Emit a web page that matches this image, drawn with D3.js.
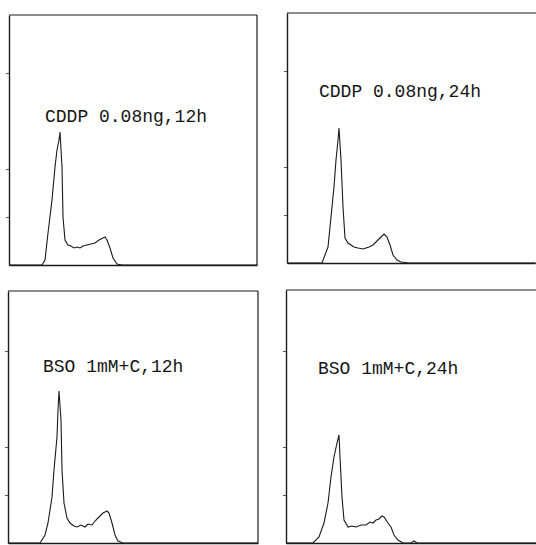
<!DOCTYPE html>
<html>
<head>
<meta charset="utf-8">
<script src="https://cdn.jsdelivr.net/npm/d3@7"></script>
<style>
  body { margin: 0; background: #fff; }
  svg { display: block; }
  .label { font-family: "Liberation Mono", "DejaVu Sans Mono", monospace; font-size: 18px; fill: #151515; }
</style>
</head>
<body>
<svg></svg>
<script>
const width = 536;
const height = 545;

// panel titles
const titles = [
	'CDDP 0.08ng,12h',
	'CDDP 0.08ng,24h',
	'BSO 1mM+C,12h',
	'BSO 1mM+C,24h'
];

// DNA content channel / cell count
const cddp12Channel = [0, 33, 36, 39, 43, 46, 48, 50, 51, 53, 54, 56, 59, 62, 65, 68, 71, 74, 78, 82, 86, 90, 94, 96, 98, 101, 104, 108, 113, 248];
const cddp12Count   = [0, 0, 5, 32, 65, 98, 115, 125, 133, 98, 48, 25, 20, 19, 17, 18, 17, 19, 20, 21, 22, 25, 27, 28, 25, 17, 7, 1, 0, 0];

const cddp24Channel = [0, 35, 41, 44, 47, 49, 51, 52, 54, 56, 58, 61, 64, 67, 71, 76, 79, 82, 86, 89, 92, 94, 97, 100, 103, 106, 110, 114, 122, 250];
const cddp24Count   = [0, 0, 16, 46, 76, 103, 123, 135, 103, 56, 25, 20, 18, 16, 15, 14, 15, 16, 18, 21, 24, 26, 29, 26, 18, 8, 3, 1, 0, 0];

const bso12Channel = [0, 32, 37, 40, 44, 46, 49, 50, 51, 53, 54, 56, 59, 62, 66, 69, 73, 77, 80, 84, 87, 90, 95, 99, 101, 104, 107, 110, 115, 250];
const bso12Count   = [0, 0, 8, 20, 46, 73, 106, 133, 152, 123, 73, 40, 25, 20, 17, 16, 18, 16, 19, 18, 22, 25, 30, 32, 30, 20, 8, 2, 0, 0];

const bso24Channel = [0, 27, 33, 38, 42, 45, 48, 51, 53, 54, 56, 58, 62, 66, 70, 75, 80, 84, 87, 90, 93, 96, 98, 102, 105, 108, 112, 117, 125, 128, 131, 250];
const bso24Count   = [0, 0, 6, 20, 40, 66, 86, 100, 108, 86, 46, 23, 16, 17, 16, 18, 18, 21, 20, 23, 24, 27, 26, 20, 16, 8, 3, 0, 0, 2, 0, 0];

const yTicks = [48, 96, 192];

const series = [
	{ channel: cddp12Channel, count: cddp12Count },
	{ channel: cddp24Channel, count: cddp24Count },
	{ channel: bso12Channel, count: bso12Count },
	{ channel: bso24Channel, count: bso24Count }
];

// panel frames on the page
const layout = [
	{ left: 9,   top: 15,  w: 248, h: 250, right: true,  tx: 36, ty: 107 },
	{ left: 287, top: 13,  w: 248, h: 250, right: false, tx: 32, ty: 84 },
	{ left: 8,   top: 291, w: 250, h: 252, right: true,  tx: 35, ty: 81 },
	{ left: 286, top: 290, w: 250, h: 253, right: false, tx: 32, ty: 84 }
];

const svg = d3.select('svg')
	.attr('width', width)
	.attr('height', height);

layout.forEach((p, i) => {
	const g = svg.append('g')
		.attr('transform', `translate(${p.left}, ${p.top})`);

	const xScale = d3.scaleLinear()
		.domain([0, p.w])
		.range([0, p.w]);

	const yScale = d3.scaleLinear()
		.domain([0, p.h])
		.range([p.h, 0]);

	// frame
	g.append('line')
		.attr('x1', 0).attr('x2', p.w + (p.right ? 0 : 10))
		.attr('y1', 0).attr('y2', 0)
		.attr('stroke', '#1a1a1a').attr('stroke-width', 1.2);
	if (p.right) {
		g.append('line')
			.attr('x1', p.w).attr('x2', p.w)
			.attr('y1', 0).attr('y2', p.h)
			.attr('stroke', '#1a1a1a').attr('stroke-width', 1.2);
	}

	const xAxisG = g.append('g')
		.attr('transform', `translate(0, ${p.h})`)
		.call(d3.axisBottom(xScale).tickValues([]).tickSizeOuter(0));
	xAxisG.select('.domain')
		.attr('stroke', '#1a1a1a').attr('stroke-width', 1.4);

	const yAxisG = g.append('g')
		.call(d3.axisLeft(yScale).tickValues(yTicks).tickSize(3).tickSizeOuter(0).tickFormat(''));
	yAxisG.select('.domain')
		.attr('stroke', '#1a1a1a').attr('stroke-width', 1.4);
	yAxisG.selectAll('.tick line')
		.attr('stroke', '#555');

	const s = series[i];
	const pts = s.channel.map((c, k) => [c, s.count[k]]);

	const line = d3.line()
		.x(d => xScale(d[0]))
		.y(d => yScale(d[1]))
		.curve(d3.curveLinear);

	g.append('path')
		.datum(pts)
		.attr('d', line)
		.attr('fill', 'none')
		.attr('stroke', '#1a1a1a')
		.attr('stroke-width', 1.1);

	g.append('text')
		.attr('class', 'label')
		.attr('x', p.tx)
		.attr('y', p.ty)
		.text(titles[i]);
});
</script>
</body>
</html>
